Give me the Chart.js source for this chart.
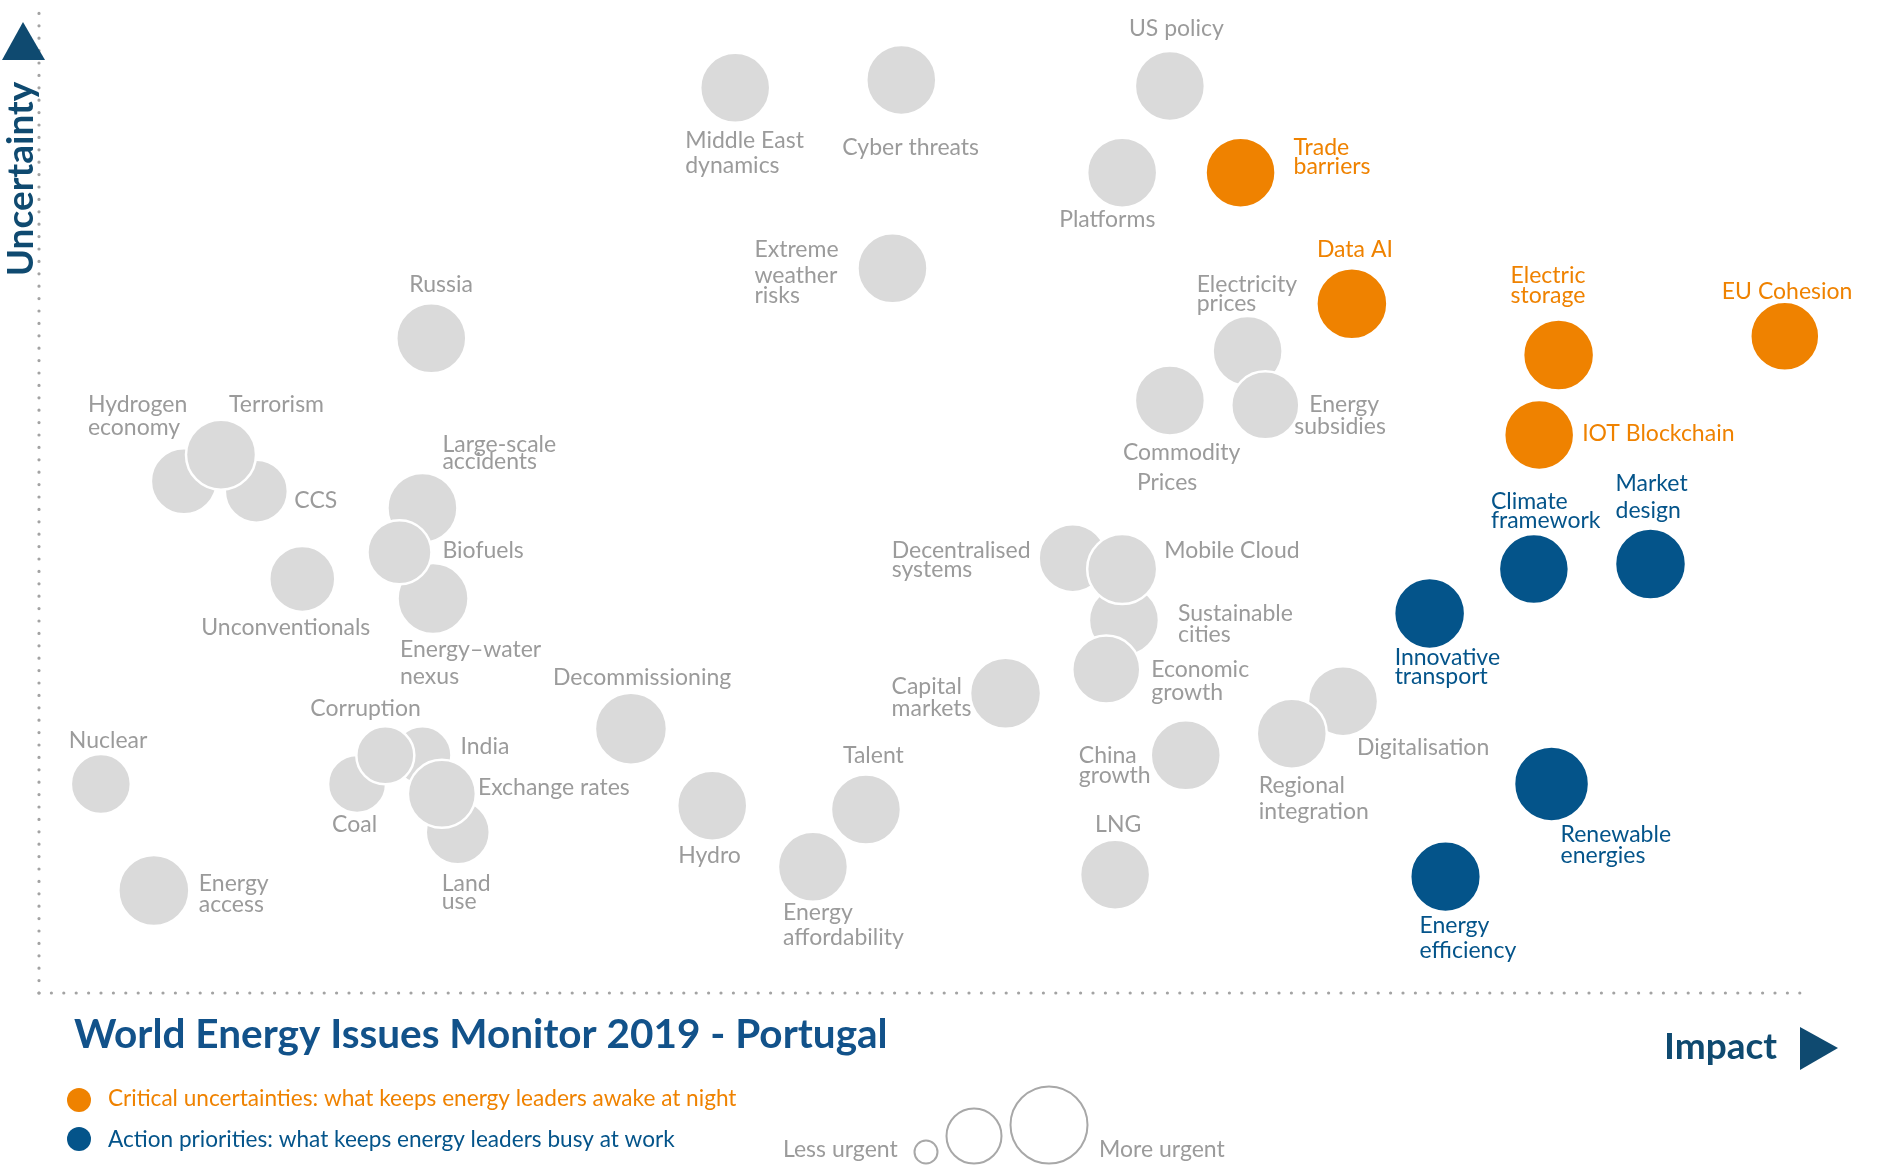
<!DOCTYPE html>
<html><head><meta charset="utf-8">
<script src="https://cdn.jsdelivr.net/npm/chart.js@4.4.1/dist/chart.umd.min.js"></script>
<style>html,body{margin:0;padding:0;background:#fff;overflow:hidden}canvas{display:block}</style>
</head><body>
<canvas id="c" width="1893" height="1165"></canvas>
<script>
// ---------- DATA ----------
// Other issues (grey)
const otherIssues = [
  'Middle East\ndynamics','Cyber threats','US policy','Platforms','Extreme\nweather\nrisks','Russia',
  'Electricity\nprices','Commodity\nPrices','Energy\nsubsidies','Hydrogen\neconomy','CCS','Terrorism',
  'Large-scale\naccidents','Energy–water\nnexus','Biofuels','Unconventionals','Decentralised\nsystems',
  'Sustainable\ncities','Mobile Cloud','Economic\ngrowth','Capital\nmarkets','Decommissioning',
  'Digitalisation','Regional\nintegration','China\ngrowth','Nuclear','Coal','India','Corruption',
  'Land\nuse','Exchange rates','Hydro','Talent','Energy\naffordability','LNG','Energy\naccess'
];
const otherImpact = [39.4,48.8,64.0,61.3,48.3,22.2,68.4,64.0,69.4,8.2,12.3,10.3,21.7,22.3,20.4,14.9,58.5,
  61.4,61.3,60.4,54.7,33.5,73.8,70.9,64.9,3.5,18.0,21.7,19.6,23.7,22.8,38.1,46.8,43.8,60.9,6.5];
const otherUncertainty = [91.8,92.6,92.0,83.2,73.5,66.4,65.1,60.1,59.6,51.9,50.9,54.6,49.2,40.0,44.7,42.0,44.1,
  37.8,43.0,32.8,30.4,26.8,29.6,26.3,24.1,21.2,21.2,24.1,24.1,16.3,20.2,19.0,18.6,12.8,12.0,10.4];
const otherUrgency = [35,35,35,35,35,35,35,35,34,33,31.5,35,35,35.5,32,33,34,
  35,35,34,35.5,36,35,35,35,30,29,29,29,32,34,35,35,35,35,35.5];

// Critical uncertainties (orange)
const criticalIssues = ['Trade\nbarriers','Data AI','Electric\nstorage','EU Cohesion','IOT Blockchain'];
const criticalImpact = [68.0,74.3,86.0,98.8,84.9];
const criticalUncertainty = [83.2,69.9,64.7,66.6,56.6];
const criticalUrgency = [35,35.5,35.5,34.5,35];

// Action priorities (blue)
const actionIssues = ['Market\ndesign','Climate\nframework','Innovative\ntransport','Renewable\nenergies','Energy\nefficiency'];
const actionImpact = [91.2,84.6,78.7,85.6,79.6];
const actionUncertainty = [43.5,43.0,38.5,21.2,11.8];
const actionUrgency = [35.5,35,35.5,37.5,35.3];

// Axis ranges shown by the dotted axes
const axisMin = 0, axisMax = 100;

// Texts
const titleText = 'World Energy Issues Monitor 2019 - Portugal';
const xAxisTitle = 'Impact';
const yAxisTitle = 'Uncertainty';
const legendCritical = 'Critical uncertainties: what keeps energy leaders awake at night';
const legendAction = 'Action priorities: what keeps energy leaders busy at work';
const lessUrgent = 'Less urgent';
const moreUrgent = 'More urgent';

// ---------- LABEL LAYOUT (offsets of each text line from bubble centre, px) ----------
const otherLabelLayout = [
  [[-50,60],[-50,85]], [[-59,75]], [[-41,-50]], [[-63,54]], [[-138,-11],[-138,15],[-138,35]], [[-22,-46]],
  [[-51,-59],[-51,-40]], [[-47,60],[-33,90]], [[44,7],[29,29]], [[-96,-69],[-96,-46]], [[38,17]], [[8,-43]],
  [[20,-56],[20,-39]], [[-33,58],[-33,85]], [[43,6]], [[-101,56]], [[-181,0],[-181,19]],
  [[54,1],[54,22]], [[42,-11]], [[45,7],[45,30]], [[-114,1],[-114,23]], [[-78,-44]],
  [[14,54]], [[-33,59],[-33,85]], [[-107,8],[-107,28]], [[-32,-36]], [[-25,48]], [[38,-1]], [[-75,-39]],
  [[-16,59],[-16,77]], [[36,1]], [[-34,57]], [[-23,-47]], [[-30,53],[-30,78]], [[-20,-43]], [[45,1],[45,22]]
];
const criticalLabelLayout = [[[53,-18],[53,1]], [[-35,-47]], [[-48,-72],[-48,-52]], [[-63,-37]], [[43,6]]];
const actionLabelLayout = [[[-35,-73],[-35,-46]], [[-43,-60],[-43,-41]], [[-35,52],[-35,71]], [[9,58],[9,79]], [[-26,56],[-26,81]]];

// ---------- STYLE ----------
const GREY = '#dadada', GREY_TXT = '#9b9b9b', ORANGE = '#ef8200', BLUE = '#04548a', DARK = '#0f4a70', TITLE_BLUE = '#12528a';
const FONT = 'Lato, "Open Sans", sans-serif';
// plot frame in pixels: x axis 0 at 39, 100 at 1806 ; y axis 0 at 993, 100 at 7
const PAD = {left:40, top:40, right:87, bottom:172};
const X_MIN = axisMin + (PAD.left - 39) / (1806 - 39) * (axisMax - axisMin);
const Y_MAX = axisMin + (993 - PAD.top) / (993 - 7) * (axisMax - axisMin);

function pts(xs, ys, rs){ return xs.map((x,i)=>({x:x, y:ys[i], r:rs[i]})); }

const labelPlugin = {
  id:'labels',
  beforeDatasetsDraw(chart){
    const ctx = chart.ctx, sx = chart.scales.x, sy = chart.scales.y;
    const x0 = sx.getPixelForValue(axisMin), x1 = sx.getPixelForValue(axisMax);
    const y0 = sy.getPixelForValue(axisMin), y1 = sy.getPixelForValue(axisMax);
    ctx.save();
    ctx.strokeStyle = '#a3a3a3'; ctx.lineWidth = 3.2; ctx.lineCap = 'round';
    ctx.setLineDash([0, 12.4]);
    ctx.beginPath(); ctx.moveTo(x0, y0); ctx.lineTo(x0, y1); ctx.stroke();
    ctx.beginPath(); ctx.moveTo(x0, y0); ctx.lineTo(x1, y0); ctx.stroke();
    ctx.restore();
  },
  afterDatasetsDraw(chart){
    const ctx = chart.ctx;
    const groups = [
      {names: otherIssues, layout: otherLabelLayout, color: GREY_TXT},
      {names: criticalIssues, layout: criticalLabelLayout, color: ORANGE},
      {names: actionIssues, layout: actionLabelLayout, color: BLUE}
    ];
    ctx.save();
    ctx.font = '23px ' + FONT; ctx.textAlign = 'left'; ctx.textBaseline = 'alphabetic';
    groups.forEach((g, di)=>{
      const meta = chart.getDatasetMeta(di);
      meta.data.forEach((el, i)=>{
        const lines = g.names[i].split('\n');
        const lay = g.layout[i];
        ctx.fillStyle = g.color;
        lines.forEach((t, k)=>{ ctx.fillText(t, el.x + lay[k][0], el.y + lay[k][1]); });
      });
    });
    ctx.restore();
  },
  afterDraw(chart){
    const ctx = chart.ctx;
    ctx.save();
    ctx.fillStyle = DARK;
    ctx.beginPath(); ctx.moveTo(23,22); ctx.lineTo(45,60); ctx.lineTo(2,60); ctx.closePath(); ctx.fill();
    ctx.beginPath(); ctx.moveTo(1800,1027); ctx.lineTo(1838,1048); ctx.lineTo(1800,1070); ctx.closePath(); ctx.fill();
    ctx.save(); ctx.translate(33, 179); ctx.rotate(-Math.PI/2);
    ctx.font = 'bold 37px ' + FONT; ctx.textAlign = 'center'; ctx.fillStyle = DARK;
    ctx.fillText(yAxisTitle, 0, 0); ctx.restore();
    ctx.font = 'bold 37px ' + FONT; ctx.textAlign = 'left'; ctx.fillStyle = DARK;
    ctx.fillText(xAxisTitle, 1664, 1059);
    ctx.font = 'bold 40.5px ' + FONT; ctx.fillStyle = TITLE_BLUE;
    ctx.fillText(titleText, 74, 1048);
    ctx.fillStyle = ORANGE; ctx.beginPath(); ctx.arc(79,1100,12,0,Math.PI*2); ctx.fill();
    ctx.fillStyle = BLUE; ctx.beginPath(); ctx.arc(79,1139,12,0,Math.PI*2); ctx.fill();
    ctx.font = '22.6px ' + FONT;
    ctx.fillStyle = ORANGE; ctx.fillText(legendCritical, 108, 1106);
    ctx.fillStyle = BLUE; ctx.fillText(legendAction, 108, 1147);
    ctx.font = '23px ' + FONT;
    ctx.fillStyle = GREY_TXT;
    ctx.fillText(lessUrgent, 783, 1157);
    ctx.fillText(moreUrgent, 1099, 1157);
    ctx.strokeStyle = '#a8a8a8'; ctx.lineWidth = 2;
    [[926,1152,11.5],[974,1136,27.5],[1049,1125,38.5]].forEach(c=>{ctx.beginPath();ctx.arc(c[0],c[1],c[2],0,Math.PI*2);ctx.stroke();});
    ctx.restore();
  }
};

const ds = (data, color)=>({data, backgroundColor: color, borderColor:'#ffffff', borderWidth:2.5, hoverRadius:0, clip:false});

new Chart(document.getElementById('c'), {
  type:'bubble',
  data:{ datasets:[
    ds(pts(otherImpact, otherUncertainty, otherUrgency), GREY),
    ds(pts(criticalImpact, criticalUncertainty, criticalUrgency), ORANGE),
    ds(pts(actionImpact, actionUncertainty, actionUrgency), BLUE)
  ]},
  options:{
    responsive:false, animation:false, devicePixelRatio:1,
    layout:{padding:PAD},
    scales:{ x:{type:'linear', min:X_MIN, max:axisMax, display:false}, y:{type:'linear', min:axisMin, max:Y_MAX, display:false} },
    plugins:{ legend:{display:false}, tooltip:{enabled:false} },
    events:[]
  },
  plugins:[labelPlugin]
});
</script>
</body></html>
